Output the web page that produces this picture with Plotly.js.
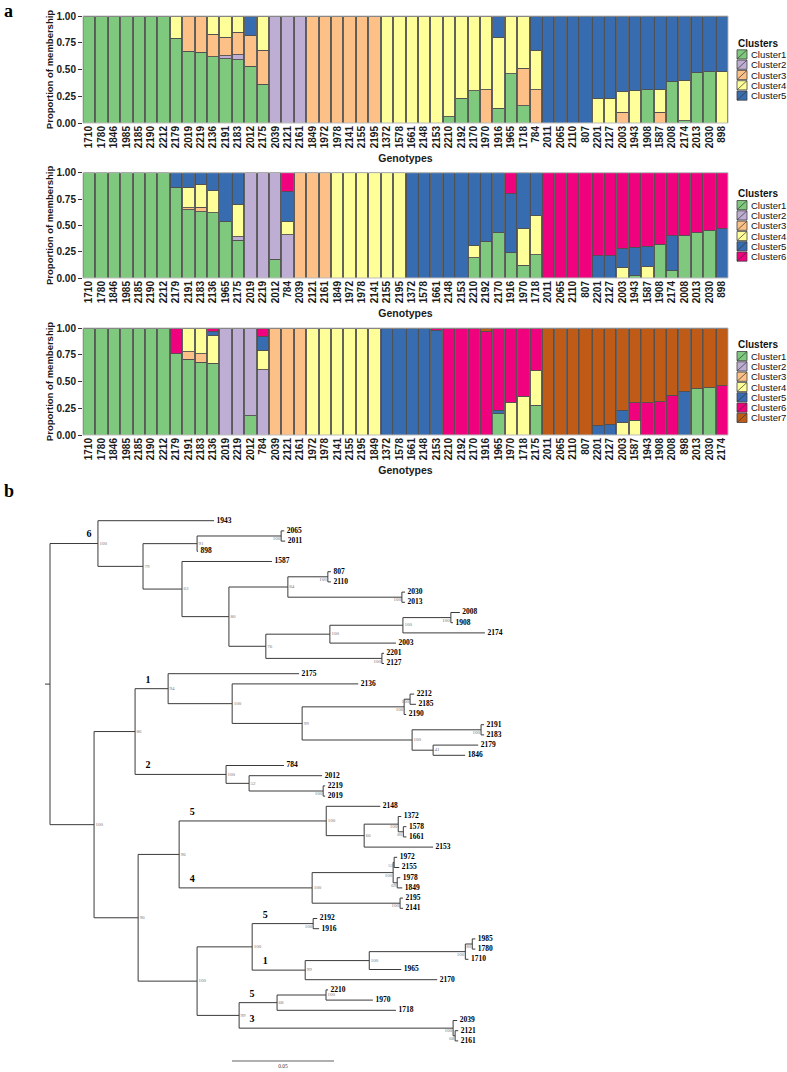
<!DOCTYPE html>
<html><head><meta charset="utf-8">
<script src="https://cdn.plot.ly/plotly-3.0.1.min.js"></script>
<style>html,body{margin:0;padding:0;background:#fff}#chart{width:787px;height:1072px}</style>
</head><body><div id="chart"></div>
<script>
// ---------------- DATA ----------------
const clusterNames = ['Cluster1','Cluster2','Cluster3','Cluster4','Cluster5','Cluster6','Cluster7'];
const clusterColors = ['#7FC97F','#BEAED4','#FDC086','#FFFF99','#386CB0','#F0027F','#BF5B17'];
const yTickValues = [0, 0.25, 0.5, 0.75, 1];
const yTickLabels = ['0.00','0.25','0.50','0.75','1.00'];

// K = 5
const genotypesK5 = ['1710','1780','1846','1985','2185','2190','2212','2179','2019','2219','2136','2191','2183','2012','2175','2039','2121','2161','1849','1972','1978','2141','2155','2195','1372','1578','1661','2148','2153','2210','2192','2170','1970','1916','1965','1718','784','2011','2065','2110','807','2201','2127','2003','1943','1908','1587','2008','2174','2013','2030','898'];
const k5Cluster1 = [1,1,1,1,1,1,1, .79,.67,.66,.62,.60,.59,.53,.36, 0,0,0, 0,0,0,0,0,0, 0,0,0,0,0, .06,.23,.30,0,.14,.46,.16,0, 0,0,0,0, 0,0,0,0,.31,0,.39,.02,.47,.48,0];
const k5Cluster2 = [0,0,0,0,0,0,0, 0,0,0,0,.03,.05,0,0, 1,1,1, 0,0,0,0,0,0, 0,0,0,0,0, 0,0,0,0,0,0,0,0, 0,0,0,0, 0,0,0,0,0,0,0,0,0,0,0];
const k5Cluster3 = [0,0,0,0,0,0,0, 0,.33,.34,.21,.17,.21,.29,.32, 0,0,0, 1,1,1,1,1,1, 0,0,0,0,0, 0,0,0,.31,0,0,.35,.31, 0,0,0,0, 0,0,.10,0,0,.10,0,0,0,0,0];
const k5Cluster4 = [0,0,0,0,0,0,0, .21,0,0,.17,.20,.15,0,.32, 0,0,0, 0,0,0,0,0,0, 1,1,1,1,1, .94,.77,.70,.69,.66,.54,.49,.37, 0,0,0,0, .23,.23,.19,.30,0,.21,0,.38,0,0,.48];
const k5Cluster5 = [0,0,0,0,0,0,0, 0,0,0,0,0,0,.18,0, 0,0,0, 0,0,0,0,0,0, 0,0,0,0,0, 0,0,0,0,.20,0,0,.32, 1,1,1,1, .77,.77,.71,.70,.69,.69,.61,.60,.53,.52,.52];

// K = 6
const genotypesK6 = ['1710','1780','1846','1985','2185','2190','2212','2179','2191','2183','2136','1965','2175','2019','2219','2012','784','2039','2121','2161','1849','1972','1978','2141','2155','2195','1372','1578','1661','2148','2153','2210','2192','2170','1916','1970','1718','2011','2065','2110','807','2201','2127','2003','1943','1587','1908','2174','2008','2013','2030','898'];
const k6Cluster1 = [1,1,1,1,1,1,1, .86,.65,.63,.62,.54,.36, 0,0,.18,0, 0,0,0, 0,0,0,0,0,0, 0,0,0,0,0, .19,.35,.43,.24,.12,.22, 0,0,0,0, 0,0,0,.02,0,.32,.07,.40,.43,.45,0];
const k6Cluster2 = [0,0,0,0,0,0,0, 0,0,0,0,0,.03, 1,1,.82,.41, 0,0,0, 0,0,0,0,0,0, 0,0,0,0,0, 0,0,0,0,0,0, 0,0,0,0, 0,0,0,0,0,0,0,0,0,0,0];
const k6Cluster3 = [0,0,0,0,0,0,0, 0,.015,.04,0,0,0, 0,0,0,0, 1,1,1, 0,0,0,0,0,0, 0,0,0,0,0, 0,0,0,0,0,0, 0,0,0,0, 0,0,0,0,0,0,0,0,0,0,0];
const k6Cluster4 = [0,0,0,0,0,0,0, 0,.195,.22,.21,0,.31, 0,0,0,.13, 0,0,0, 1,1,1,1,1,1, 0,0,0,0,0, .12,0,0,0,.35,.37, 0,0,0,0, 0,0,.10,0,.11,0,0,0,0,0,0];
const k6Cluster5 = [0,0,0,0,0,0,0, .14,.14,.11,.17,.46,.30, 0,0,0,.28, 0,0,0, 0,0,0,0,0,0, 1,1,1,1,1, .69,.65,.57,.56,.53,.41, 0,0,0,0, .21,.21,.18,.27,.19,0,.33,0,0,0,.47];
const k6Cluster6 = [0,0,0,0,0,0,0, 0,0,0,0,0,0, 0,0,0,.18, 0,0,0, 0,0,0,0,0,0, 0,0,0,0,0, 0,0,0,.20,0,0, 1,1,1,1, .79,.79,.72,.71,.70,.68,.60,.60,.57,.55,.53];

// K = 7
const genotypesK7 = ['1710','1780','1846','1985','2185','2190','2212','2179','2191','2183','2136','2019','2219','2012','784','2039','2121','2161','1972','1978','2141','2155','2195','1849','1372','1578','1661','2148','2153','2210','2192','2170','1916','1965','1970','1718','2175','2011','2065','2110','807','2201','2127','2003','1587','1943','1908','2008','898','2013','2030','2174'];
const k7Cluster1 = [1,1,1,1,1,1,1, .76,.71,.68,.67, 0,0,.18,0, 0,0,0, 0,0,0,0,0,0, 0,0,0,0,0, 0,0,0,0,.20,0,0,.28, 0,0,0,0, 0,0,0,0,0,0,0,0,.43,.44,0];
const k7Cluster2 = [0,0,0,0,0,0,0, 0,0,0,0, 1,1,.82,.61, 0,0,0, 0,0,0,0,0,0, 0,0,0,0,0, 0,0,0,0,0,0,0,0, 0,0,0,0, 0,0,0,0,0,0,0,0,0,0,0];
const k7Cluster3 = [0,0,0,0,0,0,0, 0,.07,.08,0, 0,0,0,0, 1,1,1, 0,0,0,0,0,0, 0,0,0,0,0, 0,0,0,0,0,0,0,0, 0,0,0,0, 0,0,0,0,0,0,0,0,0,0,0];
const k7Cluster4 = [0,0,0,0,0,0,0, 0,.22,.24,.26, 0,0,0,.18, 0,0,0, 1,1,1,1,1,1, 0,0,0,0,0, 0,0,0,0,0,.30,.36,.32, 0,0,0,0, 0,0,.12,.14,0,0,0,0,0,0,0];
const k7Cluster5 = [0,0,0,0,0,0,0, 0,0,0,.04, 0,0,0,.13, 0,0,0, 0,0,0,0,0,0, 1,1,1,1,.98, 0,0,0,0,.03,0,0,0, 0,0,0,0, .09,.10,.11,0,0,0,0,.41,0,0,0];
const k7Cluster6 = [0,0,0,0,0,0,0, .24,0,0,.03, 0,0,0,.08, 0,0,0, 0,0,0,0,0,0, 0,0,0,0,.02, 1,1,1,.97,.77,.70,.64,.40, 0,0,0,0, 0,0,0,.16,.30,.31,.37,0,0,0,.46];
const k7Cluster7 = [0,0,0,0,0,0,0, 0,0,0,0, 0,0,0,0, 0,0,0, 0,0,0,0,0,0, 0,0,0,0,0, 0,0,0,.03,0,0,0,0, 1,1,1,1, .91,.90,.77,.70,.70,.69,.63,.59,.57,.56,.54];

// Phylogenetic tree (Newick; internal labels = bootstrap[_clade])
const treeCladeSix = "(1943:0.0569,(((2065:0.0015,2011:0.002)100:0.0412,898:0.0005)91:0.0265,(1587:0.0441,(((807:0.0015,2110:0.0015)100:0.0196,(2030:0.0015,2013:0.0015)100:0.0559)84:0.0289,((((2008:0.0044,1908:0.001)100:0.0235,2174:0.0402)100:0.0358,2003:0.0324)100:0.0314,(2201:0.001,2127:0.001)100:0.0569)76:0.0181)80:0.0230)63:0.0191)79:0.0221)100_6";
const treeCladesOneTwo = "((2175:0.0642,(2136:0.0618,(((2212:0.002,2185:0.0029)100:0.0029,2190:0.001)100:0.0500,((2191:0.0015,2183:0.0015)100:0.0338,(2179:0.0221,1846:0.0157)41:0.0103)100:0.0539)99:0.0343)100:0.0314)94_1:0.0162,(784:0.0284,(2012:0.0358,(2219:0.001,2019:0.001)100:0.0363)52:0.0113)100_2:0.0446)86";
const treeCladesFiveFour = "((2148:0.0265,((1372:0.0015,(1578:0.0015,1661:0.0015)80:0.0025)100:0.0167,2153:0.0338)66:0.0186)100_5:0.0721,(((1972:0.0015,2155:0.0025)51:0.0005,(1978:0.0015,1849:0.0025)69:0.002)100:0.0397,(2195:0.0015,2141:0.0015)100:0.0431)100_4:0.0652)96";
const treeCladesMixed = "(((2192:0.002,1916:0.0029)100_5:0.0299,((((1985:0.0015,1780:0.0015)80:0.0034,1710:0.0015)100:0.0471,1965:0.0157)100:0.0314,2170:0.0647)99_1:0.0260)100:0.0270,(((2210:0.001,1970:0.0230)100:0.0240,1718:0.0583)68_5:0.0186,(2039:0.002,(2121:0.0015,2161:0.0015)68:0.001)100_3:0.1049)99:0.0206)100";
const treeNewick = "(" + treeCladeSix + ":0.0235,(" + treeCladesOneTwo + ":0.0201,(" + treeCladesFiveFour + ":0.0201," + treeCladesMixed + ":0.0289)96:0.0216)100:0.0216);";
const scaleBarLength = 0.05;

// ---------------- LAYOUT HELPERS ----------------
const W = 787, H = 1072;
const plotLeft = 83, plotRight = 728;
const panels = [
  {genotypes: genotypesK5, series: [k5Cluster1,k5Cluster2,k5Cluster3,k5Cluster4,k5Cluster5], top: 16, bottom: 123},
  {genotypes: genotypesK6, series: [k6Cluster1,k6Cluster2,k6Cluster3,k6Cluster4,k6Cluster5,k6Cluster6], top: 172.7, bottom: 278},
  {genotypes: genotypesK7, series: [k7Cluster1,k7Cluster2,k7Cluster3,k7Cluster4,k7Cluster5,k7Cluster6,k7Cluster7], top: 328, bottom: 435}
];
const sans = 'Liberation Sans, Arial, sans-serif';
const serif = 'Liberation Serif, Times New Roman, serif';

const traces = [];
const shapes = [];
const annotations = [];
const layout = {
  width: W, height: H, margin: {l:0, r:0, t:0, b:0},
  paper_bgcolor: '#fff', plot_bgcolor: 'rgba(0,0,0,0)',
  barmode: 'stack', bargap: 0.08, showlegend: false,
  font: {family: sans, color: '#111'},
  shapes: shapes, annotations: annotations
};

panels.forEach((p, i) => {
  const ax = i === 0 ? '' : String(i + 1);
  p.series.forEach((vals, c) => {
    traces.push({
      type: 'bar', x: p.genotypes, y: vals, name: clusterNames[c],
      xaxis: 'x' + ax, yaxis: 'y' + ax,
      marker: {color: clusterColors[c], line: {color: '#505050', width: 0.9}},
      hovertemplate: '%{x}: %{y}<extra>' + clusterNames[c] + '</extra>'
    });
  });
  layout['xaxis' + ax] = {
    domain: [plotLeft / W, plotRight / W], anchor: 'y' + ax, type: 'category',
    tickangle: -90, ticks: '', showgrid: false, zeroline: false, showline: false,
    tickfont: {family: sans, size: 10, color: '#1a1a1a', weight: 'bold'},
    title: {text: 'Genotypes', font: {family: sans, size: 10.5, color: '#1a1a1a', weight: 'bold'}, standoff: 7},
    fixedrange: true
  };
  layout['yaxis' + ax] = {
    domain: [1 - p.bottom / H, 1 - p.top / H], anchor: 'x' + ax, range: [0, 1],
    tickvals: yTickValues, ticktext: yTickLabels, ticks: 'outside', ticklen: 4, tickcolor: '#333',
    showgrid: false, zeroline: false, showline: false,
    tickfont: {family: sans, size: 10, color: '#1a1a1a', weight: 'bold'},
    title: {text: 'Proportion of membership', font: {family: sans, size: 9.5, color: '#1a1a1a', weight: 'bold'}, standoff: 1},
    fixedrange: true
  };
  shapes.push({type: 'rect', xref: 'x' + ax + ' domain', yref: 'y' + ax + ' domain', x0: 0, x1: 1, y0: 0, y1: 1,
    line: {color: '#bdbdbd', width: 1}, layer: 'above'});

  // custom legend
  const n = p.series.length, step = 10.3, titleH = 11;
  const centerY = (p.top + p.bottom) / 2;
  const startY = centerY - (n * step + titleH) / 2;
  annotations.push({xref: 'paper', yref: 'paper', x: 736 / W, y: 1 - (startY + 5) / H, xanchor: 'left', yanchor: 'middle',
    text: '<b>Clusters</b>', showarrow: false, font: {family: sans, size: 10, color: '#111'}});
  for (let c = 0; c < n; c++) {
    const cy = startY + titleH + step * c + step / 2;
    const x0 = 737 / W, x1 = 747 / W, y0 = 1 - (cy + 4.6) / H, y1 = 1 - (cy - 4.6) / H;
    shapes.push({type: 'rect', xref: 'paper', yref: 'paper', x0: x0, x1: x1, y0: y0, y1: y1,
      fillcolor: clusterColors[c], line: {color: '#404040', width: 0.8}});
    shapes.push({type: 'line', xref: 'paper', yref: 'paper', x0: x0, x1: x1, y0: y0, y1: y1,
      line: {color: '#333', width: 0.7}});
    annotations.push({xref: 'paper', yref: 'paper', x: 749 / W, y: 1 - cy / H, xanchor: 'left', yanchor: 'middle',
      text: clusterNames[c], showarrow: false, font: {family: sans, size: 9.5, color: '#111'}});
  }
});

annotations.push({xref: 'paper', yref: 'paper', x: 2 / W, y: 1 - 11 / H, xanchor: 'left', yanchor: 'middle',
  text: '<b>a</b>', showarrow: false, font: {family: serif, size: 18, color: '#000'}});
annotations.push({xref: 'paper', yref: 'paper', x: 2 / W, y: 1 - 491 / H, xanchor: 'left', yanchor: 'middle',
  text: '<b>b</b>', showarrow: false, font: {family: serif, size: 18, color: '#000'}});

// ---------------- TREE ----------------
function parseNewick(s) {
  let i = 0;
  function node() {
    const nd = {children: [], label: '', len: 0};
    if (s[i] === '(') {
      i++;
      nd.children.push(node());
      while (s[i] === ',') { i++; nd.children.push(node()); }
      i++; // ')'
    }
    while (i < s.length && ',():;'.indexOf(s[i]) < 0) nd.label += s[i++];
    if (s[i] === ':') {
      i++; let num = '';
      while (i < s.length && ',();'.indexOf(s[i]) < 0) num += s[i++];
      nd.len = parseFloat(num);
    }
    return nd;
  }
  return node();
}
const root = parseNewick(treeNewick);
let leafIndex = 0;
function place(nd, x, parent) {
  nd.x = x; nd.parent = parent;
  if (nd.children.length === 0) { nd.y = leafIndex++; nd.depth = 0; return; }
  nd.children.forEach(ch => place(ch, x + ch.len, nd));
  nd.y = (nd.children[0].y + nd.children[nd.children.length - 1].y) / 2;
  nd.depth = Math.max(...nd.children.map(ch => ch.len + ch.depth));
}
place(root, 0, null);

const pxPerUnit = 2040, rootPx = 50;
const leafTopPx = 520.7, leafStepPx = 10.2;
const treeDomainTop = 0.53;
const u = px => px / pxPerUnit; // pixel offset -> tree units

const lx = [], ly = [];
const leafX = [], leafY = [], leafT = [];
const bootL = {x: [], y: [], t: []}, bootR = {x: [], y: [], t: []};
const cladeX = [], cladeY = [], cladeT = [];
(function walk(nd) {
  if (nd.parent) { lx.push(nd.parent.x, nd.x, null); ly.push(nd.y, nd.y, null); }
  if (nd.children.length) {
    lx.push(nd.x, nd.x, null);
    ly.push(nd.children[0].y, nd.children[nd.children.length - 1].y, null);
    if (nd.parent && nd.label) {
      const parts = nd.label.split('_');
      if (nd.depth < u(12)) { bootL.x.push(nd.x - u(1)); bootL.y.push(nd.y + 0.3); bootL.t.push(parts[0]); }
      else { bootR.x.push(nd.x + u(1.5)); bootR.y.push(nd.y); bootR.t.push(parts[0]); }
      if (parts[1]) {
        const cx = nd.parent.parent ? nd.parent.x + u(13) : nd.x - u(9);
        cladeX.push(cx); cladeY.push(nd.y - 0.35); cladeT.push('<b>' + parts[1] + '</b>');
      }
    }
    nd.children.forEach(walk);
  } else {
    leafX.push(nd.x + u(2.5)); leafY.push(nd.y); leafT.push('<b>' + nd.label + '</b>');
  }
})(root);
// root stub
lx.push(-u(5), 0, null); ly.push(root.y, root.y, null);

traces.push({type: 'scatter', mode: 'lines', x: lx, y: ly, xaxis: 'x4', yaxis: 'y4',
  line: {color: '#3a3a3a', width: 1}, hoverinfo: 'skip', connectgaps: false});
traces.push({type: 'scatter', mode: 'text', x: leafX, y: leafY, text: leafT, textposition: 'middle right',
  xaxis: 'x4', yaxis: 'y4', textfont: {family: serif, size: 7.5, color: '#000'}, hoverinfo: 'skip'});
traces.push({type: 'scatter', mode: 'text', x: bootR.x, y: bootR.y, text: bootR.t, textposition: 'middle right',
  xaxis: 'x4', yaxis: 'y4', textfont: {family: serif, size: 5, color: '#777'}, hoverinfo: 'skip'});
traces.push({type: 'scatter', mode: 'text', x: bootL.x, y: bootL.y, text: bootL.t, textposition: 'middle left',
  xaxis: 'x4', yaxis: 'y4', textfont: {family: serif, size: 5, color: '#777'}, hoverinfo: 'skip'});
traces.push({type: 'scatter', mode: 'text', x: cladeX, y: cladeY, text: cladeT, textposition: 'top center',
  xaxis: 'x4', yaxis: 'y4', textfont: {family: serif, size: 10, color: '#000'}, hoverinfo: 'skip'});

// scale bar
const sbX0 = u(232 - rootPx), sbY = (1061 - leafTopPx) / leafStepPx;
traces.push({type: 'scatter', mode: 'lines', x: [sbX0, sbX0 + scaleBarLength], y: [sbY, sbY], xaxis: 'x4', yaxis: 'y4',
  line: {color: '#3a3a3a', width: 0.8}, hoverinfo: 'skip'});
traces.push({type: 'scatter', mode: 'text', x: [sbX0 + scaleBarLength / 2], y: [sbY + 0.3], text: [String(scaleBarLength)],
  textposition: 'bottom center', xaxis: 'x4', yaxis: 'y4', textfont: {family: serif, size: 5.5, color: '#444'}, hoverinfo: 'skip'});

const topPx = H * (1 - treeDomainTop);
layout.xaxis4 = {domain: [0, 1], anchor: 'y4', range: [u(-rootPx), u(W - rootPx)], visible: false, fixedrange: true};
layout.yaxis4 = {domain: [0, treeDomainTop], anchor: 'x4',
  range: [(H - leafTopPx) / leafStepPx, (topPx - leafTopPx) / leafStepPx], visible: false, fixedrange: true};

Plotly.newPlot('chart', traces, layout, {displayModeBar: false, staticPlot: true});
</script></body></html>
